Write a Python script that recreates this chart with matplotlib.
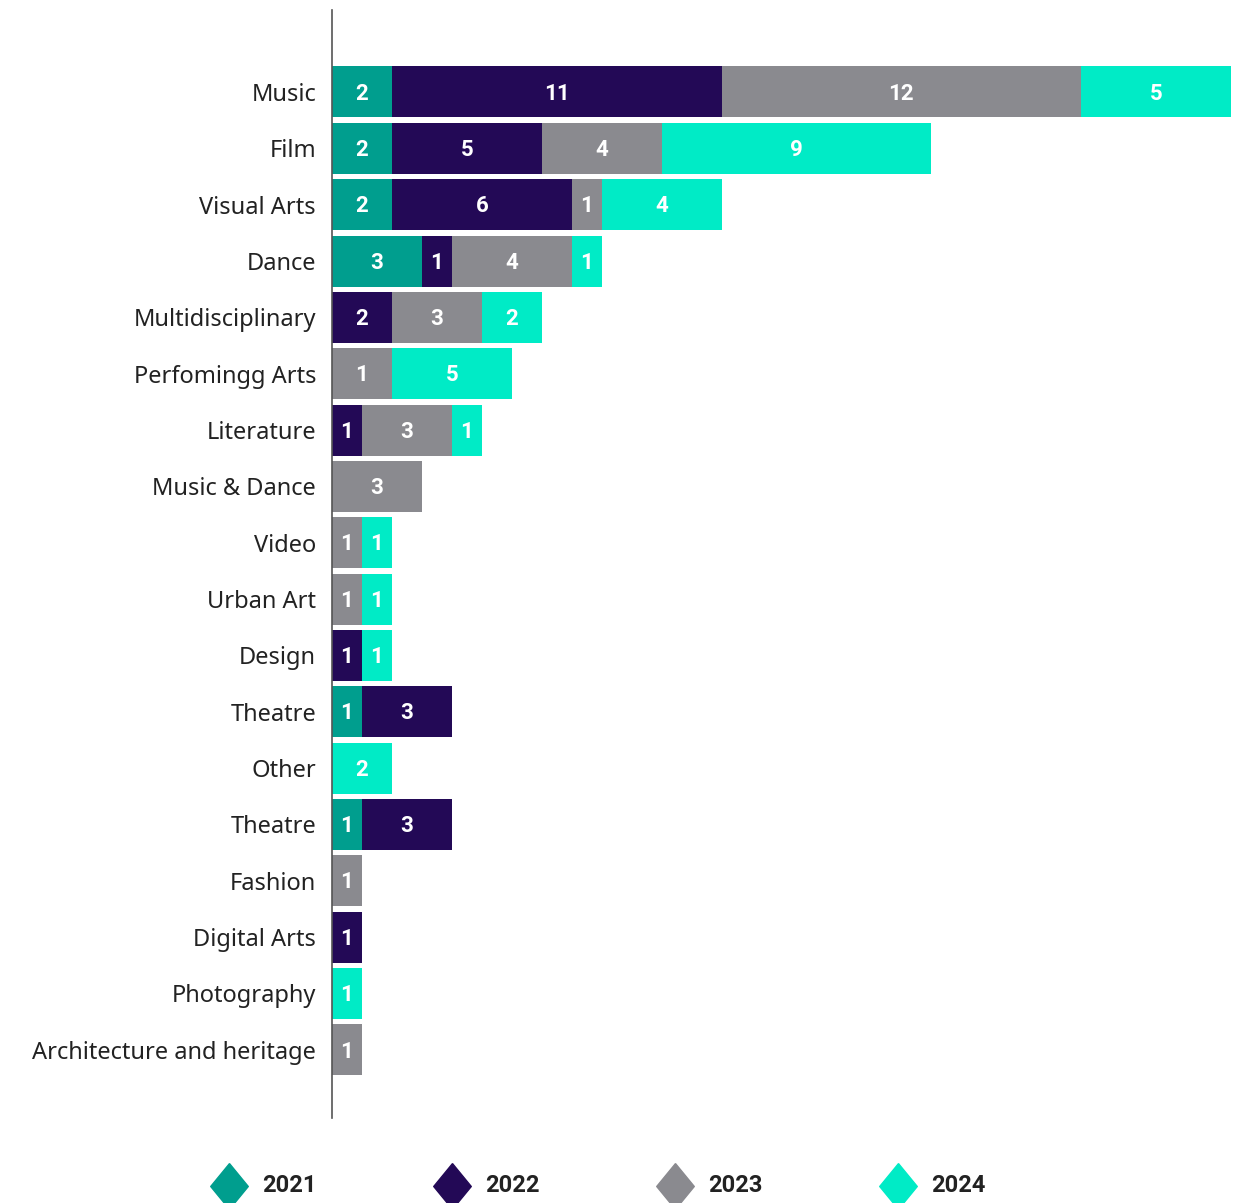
import numpy as np
import matplotlib.pyplot as plt
from matplotlib.lines import Line2D

# donnees
categories = ["Music", "Film", "Visual Arts", "Dance", "Multidisciplinary",
              "Perfomingg Arts", "Literature", "Music & Dance", "Video",
              "Urban Art", "Design", "Theatre", "Other", "Theatre", "Fashion",
              "Digital Arts", "Photography", "Architecture and heritage"]
years = ["2021", "2022", "2023", "2024"]
v2021 = [2, 2, 2, 3, 0, 0, 0, 0, 0, 0, 0, 1, 0, 1, 0, 0, 0, 0]
v2022 = [11, 5, 6, 1, 2, 0, 1, 0, 0, 0, 1, 3, 0, 3, 0, 1, 0, 0]
v2023 = [12, 4, 1, 4, 3, 2, 3, 3, 1, 1, 0, 0, 0, 0, 1, 0, 0, 1]
v2024 = [5, 9, 4, 1, 2, 4, 1, 0, 1, 1, 1, 0, 2, 0, 0, 0, 1, 0]
# etiquettes affichees (differentes de la longueur pour "Perfomingg Arts")
lab2023 = list(v2023)
lab2024 = list(v2024)
lab2023[5] = 1
lab2024[5] = 5

colors = ["#009E8E", "#230956", "#8A8A8F", "#00EBC6"]

fig = plt.figure(figsize=(12.43, 12.03), dpi=100)
ax = fig.add_axes([332 / 1243, 1 - 1118 / 1203, 1 - 332 / 1243, 1108 / 1203])

y = np.arange(len(categories))
series = [v2021, v2022, v2023, v2024]
labels = [v2021, v2022, lab2023, lab2024]
left = np.zeros(len(categories))
for vals, labs, col in zip(series, labels, colors):
    vals = np.array(vals, dtype=float)
    ax.barh(y, vals, left=left, height=0.905, color=col, edgecolor="none")
    for i in range(len(categories)):
        if vals[i] > 0:
            ax.text(left[i] + vals[i] / 2, y[i] + 0.03, str(labs[i]), color="white",
                    ha="center", va="center", fontsize=16, fontweight="bold",
                    family="Roboto")
    left = left + vals

ax.set_xlim(0, 911 / 29.97)
ax.set_ylim(len(categories) - 1 + 1.21, -1.455)
ax.set_yticks(y)
ax.set_yticklabels(categories, fontsize=17, family="Noto Sans", color="#222222")
ax.tick_params(axis="y", length=0, pad=11.5)
ax.set_xticks([])
for s in ["top", "right", "bottom"]:
    ax.spines[s].set_visible(False)
ax.spines["left"].set_color("#555555")
ax.spines["left"].set_linewidth(1.2)

# legende (losanges un peu allonges)
losange = [(0, 1), (0.82, 0), (0, -1), (-0.82, 0), (0, 1)]
xs = [229, 452, 675, 898]
for xp, col, yr in zip(xs, colors, years):
    fig.add_artist(Line2D([xp / 1243], [1 - 1186 / 1203], marker=losange,
                          markersize=33, color=col, linestyle="none",
                          transform=fig.transFigure))
    fig.text((xp + 33) / 1243, 1 - 1185 / 1203, yr, ha="left", va="center",
             fontsize=17, fontweight="bold", color="#222222",
             family="Roboto")

fig.savefig("out.png", dpi=100)
